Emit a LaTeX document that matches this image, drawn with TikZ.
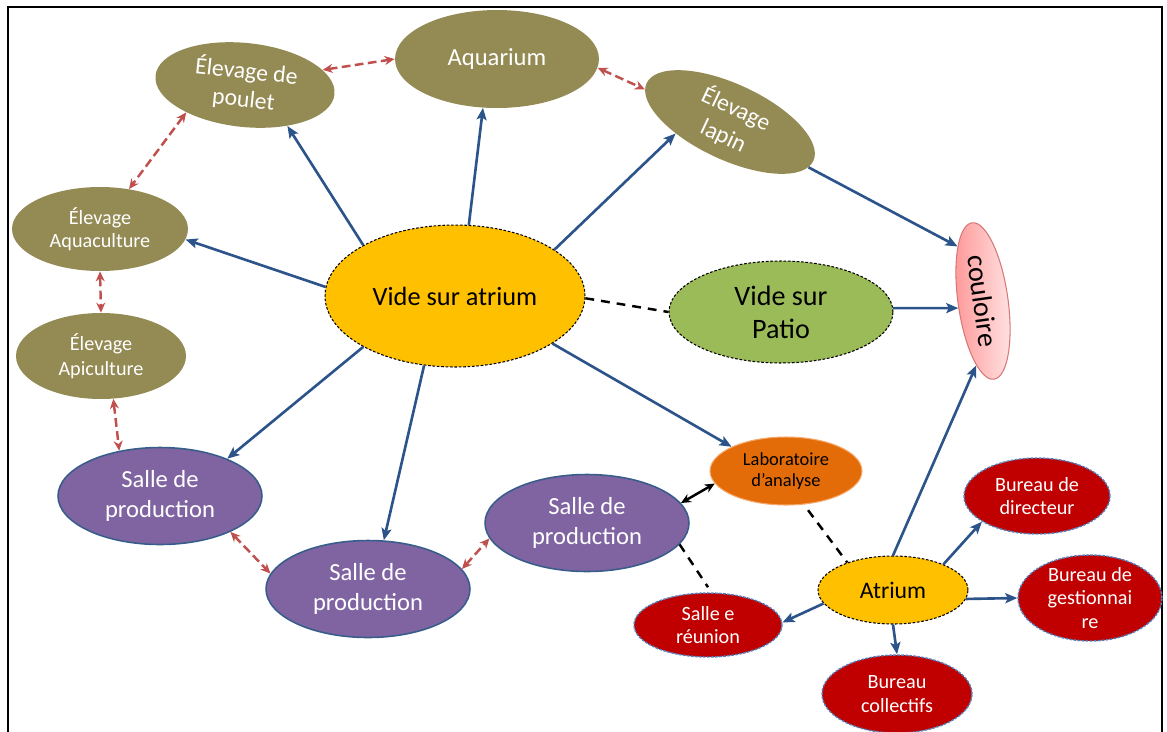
\documentclass[tikz,border=0pt]{standalone}
\usepackage{fontspec}
\setmainfont{Carlito}
\usepackage{xcolor}
\usepackage{tikz}
\usetikzlibrary{shapes.geometric, arrows.meta}

\definecolor{olivebox}{RGB}{148,138,84}
\definecolor{purplebox}{RGB}{128,100,162}
\definecolor{purpleline}{RGB}{56,93,138}
\definecolor{redbox}{RGB}{192,0,0}
\definecolor{redline}{RGB}{79,129,189}
\definecolor{goldbox}{RGB}{255,192,0}
\definecolor{greenbox}{RGB}{155,187,89}
\definecolor{orangebox}{RGB}{227,108,9}
\definecolor{orangeline}{RGB}{244,170,110}
\definecolor{pinkdark}{RGB}{255,150,150}
\definecolor{pinklight}{RGB}{255,230,230}
\definecolor{pinkline}{RGB}{215,120,120}
\definecolor{arrowblue}{RGB}{44,84,138}
\definecolor{arrowred}{RGB}{192,80,77}

\begin{document}
\begin{tikzpicture}[
    x=0.02cm, y=-0.02cm,
    bubble/.style={ellipse, inner sep=0pt, align=center},
    olive_node/.style={bubble, fill=olivebox, text=white},
    purple_node/.style={bubble, fill=purplebox, draw=purpleline, line width=0.9pt, text=white,
        minimum width=4.08cm, minimum height=1.94cm, font=\fontsize{14}{17}\selectfont},
    red_node/.style={bubble, fill=redbox, draw=redline, dash pattern=on 1.5pt off 0.8pt, line width=0.8pt,
        text=white, font=\fontsize{11.5}{13.6}\selectfont},
    gold_node/.style={bubble, fill=goldbox, draw=black, dash pattern=on 1.5pt off 1pt, line width=0.6pt},
    link/.style={draw=arrowblue, line width=1.5pt, -{Stealth[length=2.4mm, width=2mm, inset=0.5mm]}},
    twoway/.style={draw=arrowred, line width=1.4pt, dash pattern=on 5pt off 2.5pt,
        {Stealth[length=2mm, width=1.8mm]}-{Stealth[length=2mm, width=1.8mm]}},
    dashed_link/.style={draw=black, line width=1.4pt, dash pattern=on 5pt off 4pt}
]
    \useasboundingbox (0,0) rectangle (1167,731);

    % --- 1. Frame ---
    \draw[line width=1.1pt] (8,745) -- (8,7) -- (1162,7) -- (1162,745);

    % --- 2. Elevages ---
    \node[olive_node, rotate=-6, minimum width=3.6cm, minimum height=1.68cm,
        font=\fontsize{13.5}{16}\selectfont] (poulet) at (245,85) {Élevage de\\poulet};
    \node[olive_node, minimum width=4.08cm, minimum height=1.96cm,
        font=\fontsize{14}{16}\selectfont] (aquarium) at (497,59) {Aquarium};
    \node[olive_node, rotate=-25, minimum width=3.68cm, minimum height=1.44cm,
        font=\fontsize{13.5}{17}\selectfont] (lapin) at (730,122) {Élevage\\lapin};
    \node[olive_node, minimum width=3.52cm, minimum height=1.68cm,
        font=\fontsize{11.5}{13}\selectfont] (aquaculture) at (100,229) {Élevage\\Aquaculture};
    \node[olive_node, minimum width=3.4cm, minimum height=1.72cm,
        font=\fontsize{11.5}{14}\selectfont] (apiculture) at (101,356) {Élevage\\Apiculture};

    % --- 3. Vides and couloire ---
    \node[gold_node, minimum width=5.2cm, minimum height=2.84cm,
        font=\fontsize{15}{18}\selectfont] (vide_atrium) at (455,296) {Vide sur atrium};
    \node[bubble, fill=greenbox, draw=black, dash pattern=on 1.5pt off 1pt, line width=0.6pt,
        minimum width=4.48cm, minimum height=2.04cm,
        font=\fontsize{16}{18.7}\selectfont] (vide_patio) at (781,312) {Vide sur\\Patio};
    \node[bubble, rotate=-82, left color=pinkdark, right color=pinklight, draw=pinkline, line width=0.6pt,
        minimum width=3.16cm, minimum height=1cm,
        font=\fontsize{16}{18}\selectfont] (couloire) at (983,301) {couloire};

    % --- 4. Salles de production ---
    \node[purple_node] (prod1) at (160,496) {Salle de\\production};
    \node[purple_node] (prod2) at (368,589) {Salle de\\production};
    \node[purple_node] (prod3) at (587,523) {Salle de\\production};

    % --- 5. Laboratoire, atrium and bureaux ---
    \node[bubble, fill=orangebox, draw=orangeline, line width=0.6pt, minimum width=3.04cm, minimum height=1.36cm,
        font=\fontsize{10.5}{12}\selectfont] (labo) at (786,471) {Laboratoire\\d’analyse};
    \node[gold_node, minimum width=3cm, minimum height=1.36cm,
        font=\fontsize{13.5}{16}\selectfont] (atrium) at (893,590) {Atrium};
    \node[red_node, minimum width=2.96cm, minimum height=1.28cm] (reunion) at (708,625) {Salle e\\réunion};
    \node[red_node, minimum width=2.92cm, minimum height=1.52cm] (b_dir) at (1037,496) {Bureau de\\directeur};
    \node[red_node, minimum width=2.88cm, minimum height=1.72cm, inner ysep=-3pt] (b_gest) at (1090,598) {Bureau de\\gestionnai\\re};
    \node[red_node, minimum width=3cm, minimum height=1.56cm] (b_coll) at (897,694) {Bureau\\collectifs};

    % --- 6. Connections ---
    \draw[link] (vide_atrium.151) -- (poulet.-38);
    \draw[link] (vide_atrium.79) -- (aquarium.-106);
    \draw[link] (vide_atrium.25) -- (lapin.-143);
    \draw[link] (vide_atrium.176) -- (aquaculture.-7);
    \draw[link] (vide_atrium.-151) -- (prod1.29);
    \draw[link] (vide_atrium.-114) -- (prod2.72);
    \draw[link] (vide_atrium.-26) -- (labo.156);

    \draw[link] (lapin.-5) -- (couloire.-163);
    \draw[link] (vide_patio.2) -- (couloire.-82);
    \draw[link] (atrium.90) -- (couloire.-14);
    \draw[link] (atrium.27) -- (b_dir.-155);
    \draw[link] (atrium.-7) -- (b_gest.180);
    \draw[link] (atrium.south) -- (b_coll.north);
    \draw[link] (atrium.-169) -- (reunion.2);

    \draw[twoway] (poulet.17) -- (aquarium.180);
    \draw[twoway] (aquarium.-5) -- (lapin.-176);
    \draw[twoway] (poulet.-149) -- (aquaculture.54);
    \draw[twoway] (aquaculture.south) -- (apiculture.north);
    \draw[twoway] (apiculture.-74) -- (prod1.132);
    \draw[twoway] (prod1.-27) -- (prod2.171);
    \draw[twoway] (prod2.12) -- (prod3.-171);

    \draw[line width=1.4pt, {Stealth[length=2mm, width=1.8mm]}-{Stealth[length=2mm, width=1.8mm]}] (prod3.12) -- (labo.-170);
    \draw[dashed_link] (vide_atrium.-1) -- (vide_patio.180);
    \draw[dashed_link, shorten <=4pt] (labo.-62) -- (atrium.149);
    \draw[dashed_link, shorten >=3.5pt] (prod3.-13) -- (reunion.84);

\end{tikzpicture}
\end{document}
